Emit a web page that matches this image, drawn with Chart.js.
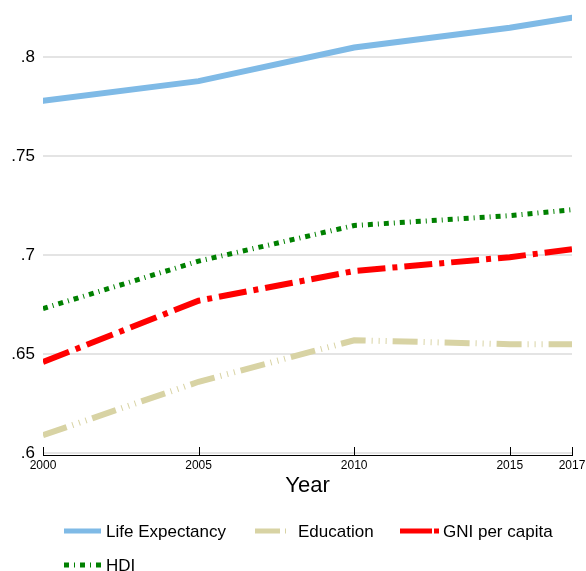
<!DOCTYPE html>
<html>
<head>
<meta charset="utf-8">
<script src="https://cdn.jsdelivr.net/npm/chart.js@4"></script>
<style>
    html, body { margin: 0; padding: 0; background: #fff; }
    #wrap { width: 586px; height: 571px; }
</style>
</head>
<body>
<div id="wrap"><canvas id="hdi_graph"></canvas></div>
<script>
const years = [2000, 2005, 2010, 2015, 2017];
const xTicks = [2000, 2005, 2010, 2015, 2017];
const yTicks = [0.6, 0.65, 0.7, 0.75, 0.8];
const lifeExpectancy = [0.778, 0.788, 0.805, 0.815, 0.820];
const education = [0.609, 0.636, 0.657, 0.655, 0.655];
const gniPerCapita = [0.646, 0.677, 0.692, 0.699, 0.703];
const hdi = [0.673, 0.697, 0.715, 0.720, 0.723];

function toPoints(values) {
    return values.map(function (v, i) {
        return { x: years[i], y: v };
    });
}

// legend drawn by hand so the dash patterns show
const legendPlugin = {
    id: 'dashLegend',
    afterDraw(chart) {
        const ctx = chart.ctx;
        const items = [
            { i: 0, x: 64, y: 531, w: 37, tx: 106, dash: [] },
            { i: 1, x: 255, y: 531, w: 31, tx: 298, dash: [25, 5, 1, 6] },
            { i: 2, x: 400, y: 531, w: 39, tx: 443, dash: [32, 2, 5, 6] },
            { i: 3, x: 64, y: 565, w: 37, tx: 106, dash: [5, 5, 1, 5] }
        ];
        ctx.save();
        items.forEach(function (it) {
            const ds = chart.data.datasets[it.i];
            ctx.beginPath();
            ctx.strokeStyle = ds.borderColor;
            ctx.lineWidth = 5;
            ctx.lineCap = 'butt';
            ctx.setLineDash(it.dash);
            ctx.moveTo(it.x, it.y);
            ctx.lineTo(it.x + it.w, it.y);
            ctx.stroke();
            ctx.setLineDash([]);
            ctx.fillStyle = '#000';
            ctx.font = '17px "Liberation Sans", Arial, sans-serif';
            ctx.textBaseline = 'middle';
            ctx.fillText(ds.label, it.tx, it.y + 1);
        });
        ctx.restore();
    }
};

// x axis line with upward ticks
const axisPlugin = {
    id: 'xAxisLine',
    afterDatasetsDraw(chart) {
        const ctx = chart.ctx;
        const xs = chart.scales.x;
        const y0 = chart.chartArea.bottom + 2;
        ctx.save();
        ctx.strokeStyle = '#000';
        ctx.lineWidth = 1;
        ctx.beginPath();
        ctx.moveTo(chart.chartArea.left, y0 + 0.5);
        ctx.lineTo(chart.chartArea.right + 1, y0 + 0.5);
        xTicks.forEach(function (t) {
            const px = Math.round(xs.getPixelForValue(t)) + 0.5;
            ctx.moveTo(px, y0 + 0.5);
            ctx.lineTo(px, y0 - 8);
        });
        ctx.stroke();
        ctx.restore();
    }
};

new Chart(document.getElementById('hdi_graph'), {
    type: 'line',
    data: {
        datasets: [
            {
                label: 'Life Expectancy',
                data: toPoints(lifeExpectancy),
                borderColor: '#7fbae6',
                borderWidth: 6,
                borderCapStyle: 'round'
            },
            {
                label: 'Education',
                data: toPoints(education),
                borderColor: '#d8d3a4',
                borderWidth: 6,
                borderDash: [25, 6, 1, 6, 1, 6, 1, 6]
            },
            {
                label: 'GNI per capita',
                data: toPoints(gniPerCapita),
                borderColor: '#ff0000',
                borderWidth: 6,
                borderDash: [28, 7, 5, 7]
            },
            {
                label: 'HDI',
                data: toPoints(hdi),
                borderColor: '#008000',
                borderWidth: 5,
                borderDash: [5, 5, 1, 5]
            }
        ]
    },
    options: {
        responsive: true,
        maintainAspectRatio: false,
        animation: false,
        elements: {
            point: { radius: 0 },
            line: { tension: 0 }
        },
        layout: {
            padding: { left: 0, right: 0, top: 0, bottom: 66 }
        },
        plugins: {
            legend: { display: false },
            tooltip: { enabled: false }
        },
        scales: {
            x: {
                type: 'linear',
                min: 2000,
                max: 2017,
                afterBuildTicks: function (axis) {
                    axis.ticks = xTicks.map(function (v) { return { value: v }; });
                },
                afterFit: function (scale) {
                    scale.height = 52;
                    scale.paddingLeft = 0;
                    scale.paddingRight = 14;
                },
                grid: { display: false, drawTicks: false },
                border: { display: false },
                ticks: {
                    color: '#000',
                    maxRotation: 0,
                    autoSkip: false,
                    padding: 5,
                    font: { family: '"Liberation Sans", Arial, sans-serif', size: 12 },
                    callback: function (v) { return String(v); }
                },
                title: {
                    display: true,
                    text: 'Year',
                    color: '#000',
                    padding: { top: 0, bottom: 6 },
                    font: { family: '"Liberation Sans", Arial, sans-serif', size: 22 }
                }
            },
            y: {
                min: 0.6,
                max: 0.829,
                afterBuildTicks: function (axis) {
                    axis.ticks = yTicks.map(function (v) { return { value: v }; });
                },
                afterFit: function (scale) {
                    scale.width = 43;
                    scale.paddingTop = 0;
                    scale.paddingBottom = 0;
                },
                grid: {
                    color: '#e4e4e4',
                    lineWidth: 2,
                    drawTicks: false
                },
                border: { display: false },
                ticks: {
                    color: '#000',
                    padding: 8,
                    font: { family: '"Liberation Sans", Arial, sans-serif', size: 17 },
                    callback: function (v) { return String(+v.toFixed(2)).replace(/^0/, ''); }
                }
            }
        }
    },
    plugins: [axisPlugin, legendPlugin]
});
</script>
</body>
</html>
